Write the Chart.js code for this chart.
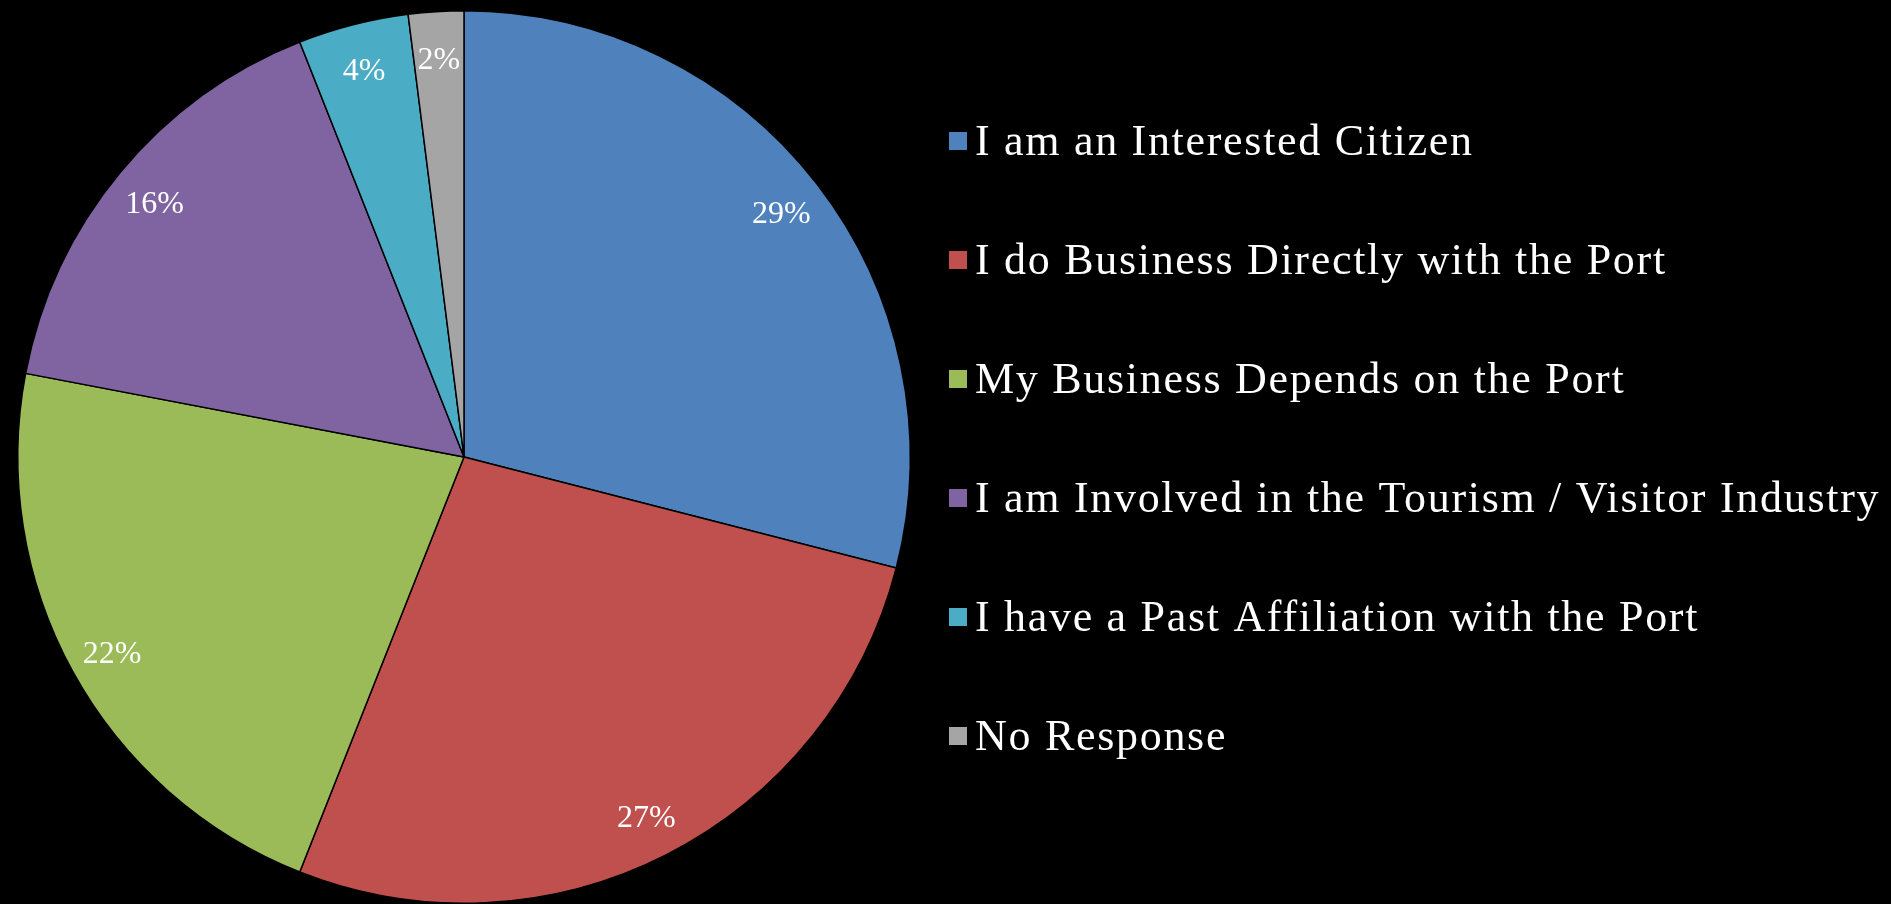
<!DOCTYPE html>
<html>
<head>
<meta charset="utf-8">
<script src="https://cdn.jsdelivr.net/npm/chart.js@4/dist/chart.umd.min.js"></script>
<style>
  html, body { margin: 0; padding: 0; background: #000; }
  #wrap { width: 1891px; height: 904px; position: relative; }
</style>
</head>
<body>
<div id="wrap"><canvas id="pieChart"></canvas></div>
<script>
// Survey respondents (percent)
const categories = [
  "I am an Interested Citizen",
  "I do Business Directly with the Port",
  "My Business Depends on the Port",
  "I am Involved in the Tourism / Visitor Industry",
  "I have a Past Affiliation with the Port",
  "No Response"
]
const shares = [29, 27, 22, 16, 4, 2]
const sliceColors = ["#4F81BD", "#C0504D", "#9BBB59", "#8064A2", "#4BACC6", "#A5A5A5"]

const serif = "'Liberation Serif', 'Times New Roman', serif"

// Percent labels drawn near the rim of each slice
const percentLabels = {
  id: "percentLabels",
  afterDatasetsDraw(chart) {
    const ctx = chart.ctx
    const meta = chart.getDatasetMeta(0)
    ctx.save()
    ctx.fillStyle = "#fff"
    ctx.font = "32px " + serif
    ctx.textAlign = "center"
    ctx.textBaseline = "middle"
    meta.data.forEach((arc, i) => {
      const p = arc.getProps(["x", "y", "startAngle", "endAngle", "outerRadius"], true)
      const mid = (p.startAngle + p.endAngle) / 2
      const r = p.outerRadius * 0.9
      ctx.fillText(shares[i] + "%", p.x + Math.cos(mid) * r, p.y + Math.sin(mid) * r + 4)
    })
    ctx.restore()
  }
}

// Legend on the right, built from the chart's own legend items
const sideLegend = {
  id: "sideLegend",
  afterDraw(chart) {
    const ctx = chart.ctx
    const items = chart.options.plugins.legend.labels.generateLabels(chart)
    const boxX = 949
    const textX = 975
    const firstY = 141
    const step = 119
    ctx.save()
    ctx.font = "44px " + serif
    ctx.letterSpacing = "1.7px"
    ctx.textBaseline = "alphabetic"
    ctx.textAlign = "left"
    items.forEach((item, i) => {
      const cy = firstY + step * i
      ctx.fillStyle = item.fillStyle
      ctx.fillRect(boxX, cy - 9, 18, 18)
      ctx.fillStyle = "#fff"
      ctx.fillText(item.text, textX, cy + 14)
    })
    ctx.restore()
  }
}

new Chart(document.getElementById("pieChart"), {
  type: "pie",
  data: {
    labels: categories,
    datasets: [
      {
        data: shares,
        backgroundColor: sliceColors,
        borderColor: "#000",
        borderWidth: 1.5,
      },
    ],
  },
  options: {
    responsive: true,
    maintainAspectRatio: false,
    animation: false,
    layout: {
      padding: { top: 10, bottom: 0, left: 0, right: 963 },
    },
    plugins: {
      tooltip: { enabled: false },
      legend: { display: false },
    },
  },
  plugins: [percentLabels, sideLegend],
})
</script>
</body>
</html>
